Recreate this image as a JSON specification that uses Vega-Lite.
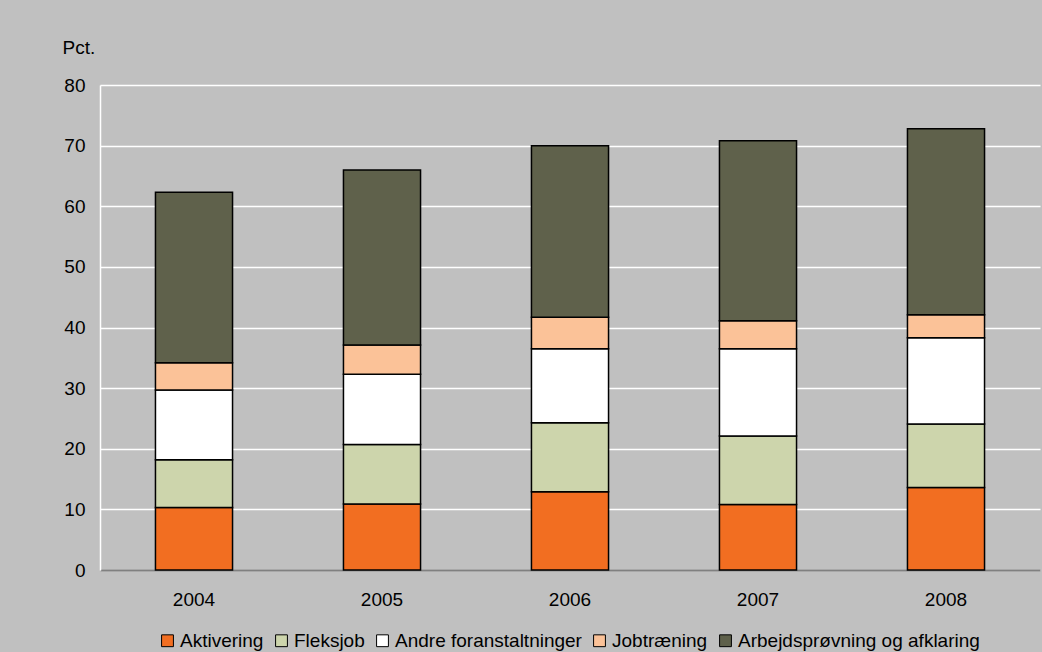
{
  "$schema": "https://vega.github.io/schema/vega-lite/v6.json",
  "width": 940,
  "height": 485,
  "autosize": {"type": "none"},
  "padding": {"left": 100, "top": 85, "right": 2, "bottom": 82},
  "background": "#c0c0c0",
  "data": {"values": [
    {"year": "2004", "type": "Aktivering", "value": 10.3},
    {"year": "2004", "type": "Fleksjob", "value": 7.9},
    {"year": "2004", "type": "Andre foranstaltninger", "value": 11.5},
    {"year": "2004", "type": "Jobtræning", "value": 4.5},
    {"year": "2004", "type": "Arbejdsprøvning og afklaring", "value": 28.1},
    {"year": "2005", "type": "Aktivering", "value": 10.9},
    {"year": "2005", "type": "Fleksjob", "value": 9.8},
    {"year": "2005", "type": "Andre foranstaltninger", "value": 11.6},
    {"year": "2005", "type": "Jobtræning", "value": 4.8},
    {"year": "2005", "type": "Arbejdsprøvning og afklaring", "value": 28.9},
    {"year": "2006", "type": "Aktivering", "value": 12.9},
    {"year": "2006", "type": "Fleksjob", "value": 11.4},
    {"year": "2006", "type": "Andre foranstaltninger", "value": 12.2},
    {"year": "2006", "type": "Jobtræning", "value": 5.2},
    {"year": "2006", "type": "Arbejdsprøvning og afklaring", "value": 28.3},
    {"year": "2007", "type": "Aktivering", "value": 10.8},
    {"year": "2007", "type": "Fleksjob", "value": 11.3},
    {"year": "2007", "type": "Andre foranstaltninger", "value": 14.4},
    {"year": "2007", "type": "Jobtræning", "value": 4.6},
    {"year": "2007", "type": "Arbejdsprøvning og afklaring", "value": 29.7},
    {"year": "2008", "type": "Aktivering", "value": 13.6},
    {"year": "2008", "type": "Fleksjob", "value": 10.5},
    {"year": "2008", "type": "Andre foranstaltninger", "value": 14.2},
    {"year": "2008", "type": "Jobtræning", "value": 3.8},
    {"year": "2008", "type": "Arbejdsprøvning og afklaring", "value": 30.7}
  ]},
  "transform": [
    {"calculate": "indexof(['Aktivering', 'Fleksjob', 'Andre foranstaltninger', 'Jobtræning', 'Arbejdsprøvning og afklaring'], datum.type)", "as": "stackIndex"}
  ],
  "mark": {"type": "bar", "stroke": "#000000", "strokeWidth": 1.5},
  "encoding": {
    "x": {
      "field": "year", "type": "ordinal",
      "scale": {"paddingInner": 0.59, "paddingOuter": 0.295},
      "axis": {
        "title": null, "labelAngle": 0, "ticks": false, "labelPadding": 20,
        "labelFontSize": 19, "labelFont": "Liberation Sans", "labelColor": "#000000",
        "domainColor": "#808080", "domainWidth": 2, "grid": false
      }
    },
    "y": {
      "field": "value", "type": "quantitative", "stack": "zero",
      "scale": {"domain": [0, 80], "nice": false},
      "axis": {
        "title": "Pct.", "titleAngle": 0, "titleAlign": "left", "titleBaseline": "middle",
        "titleX": -38, "titleY": -38, "titleFont": "Liberation Sans", "titleFontSize": 19,
        "titleFontWeight": "normal", "titleColor": "#000000",
        "values": [0, 10, 20, 30, 40, 50, 60, 70, 80],
        "ticks": false, "labelPadding": 15, "labelFontSize": 19,
        "labelFont": "Liberation Sans", "labelColor": "#000000",
        "domainColor": "#ffffff", "domainWidth": 1.5,
        "grid": true, "gridColor": "#ffffff", "gridWidth": 1.5
      }
    },
    "order": {"field": "stackIndex", "type": "quantitative", "sort": "ascending"},
    "color": {
      "field": "type", "type": "nominal",
      "scale": {
        "domain": ["Aktivering", "Fleksjob", "Andre foranstaltninger", "Jobtræning", "Arbejdsprøvning og afklaring"],
        "range": ["#f26e21", "#cdd5ac", "#ffffff", "#fbc298", "#5f614b"]
      },
      "legend": {
        "title": null, "orient": "none", "direction": "horizontal",
        "legendX": 58, "legendY": 546,
        "symbolType": "square", "symbolSize": 140, "symbolStrokeColor": "#000000",
        "symbolStrokeWidth": 1, "symbolOpacity": 1,
        "labelFont": "Liberation Sans", "labelFontSize": 19, "labelColor": "#000000",
        "labelLimit": 0, "labelOffset": 3, "columnPadding": 8, "padding": 0
      }
    }
  },
  "config": {
    "view": {"stroke": null},
    "axis": {"labelFontWeight": "normal"}
  }
}
